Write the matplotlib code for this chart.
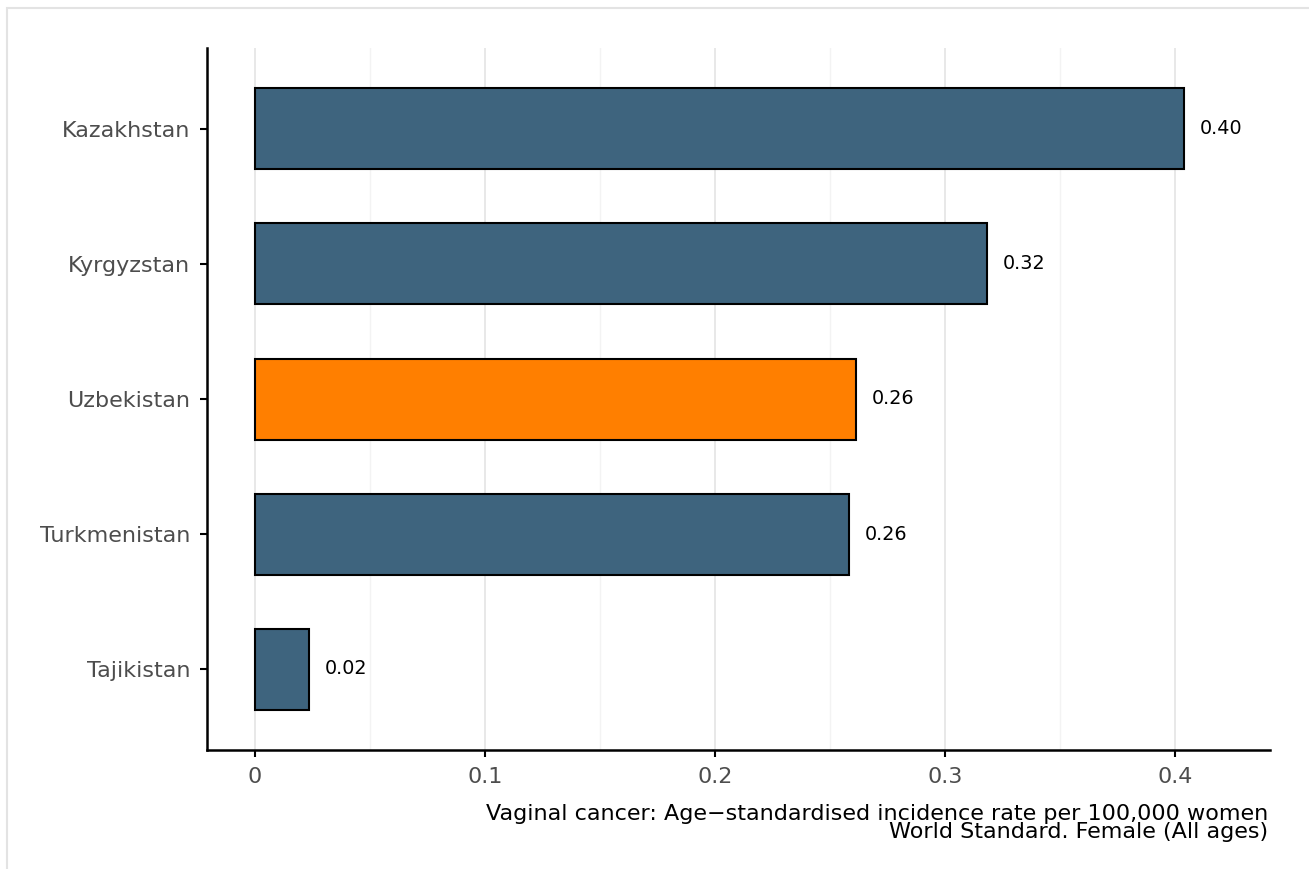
import matplotlib
matplotlib.use("Agg")
import matplotlib.pyplot as plt
from matplotlib.patches import Rectangle

# --- data ---
countries = ["Tajikistan", "Turkmenistan", "Uzbekistan", "Kyrgyzstan", "Kazakhstan"]
rates = [0.0235, 0.2583, 0.2613, 0.3183, 0.4039]
highlight = "Uzbekistan"
xticks = [0, 0.1, 0.2, 0.3, 0.4]
xtick_labels = ["0", "0.1", "0.2", "0.3", "0.4"]
caption = ("Vaginal cancer: Age\u2212standardised incidence rate per 100,000 women\n"
           "World Standard. Female (All ages)")

BLUE = "#3e647e"
ORANGE = "#ff7f00"

W, H = 1309, 869
fig = plt.figure(figsize=(W / 100, H / 100), dpi=100)
ax = fig.add_axes([207 / W, 1 - 750 / H, (1270 - 207) / W, (750 - 48) / H])

# faint page border
fig.patches.append(Rectangle((7 / W, -0.05), 1.1, 1 - 8 / H + 0.05,
                             transform=fig.transFigure, fill=False,
                             edgecolor="#e3e3e3", lw=1.5))

ypos = range(len(countries))
colors = [ORANGE if c == highlight else BLUE for c in countries]
ax.barh(ypos, rates, height=0.6, color=colors, edgecolor="black", lw=1.5, zorder=3)
for y, v in zip(ypos, rates):
    ax.text(v + 0.007, y, f"{v:.2f}", va="center", ha="left", fontsize=13.8, zorder=4)

ax.set_xlim(-0.0209, 0.4413)
ax.set_ylim(-0.6, 4.6)
ax.set_yticks(list(ypos))
ax.set_yticklabels(countries)
ax.set_xticks(xticks)
ax.set_xticklabels(xtick_labels)
ax.set_xticks([0.05, 0.15, 0.25, 0.35], minor=True)

ax.grid(axis="x", which="major", color="#e6e6e6", lw=1.3, zorder=0)
ax.grid(axis="x", which="minor", color="#f3f3f3", lw=1.0, zorder=0)
ax.tick_params(axis="both", which="major", labelsize=16, labelcolor="#4d4d4d",
               color="black", width=1.5, length=5)
ax.tick_params(axis="x", which="minor", length=0)
ax.tick_params(axis="x", pad=7)
ax.tick_params(axis="y", pad=7)
for s in ["top", "right"]:
    ax.spines[s].set_visible(False)
for s in ["left", "bottom"]:
    ax.spines[s].set_linewidth(1.8)

fig.text(1268 / W, 1 - 804 / H, caption, ha="right", va="top",
         fontsize=16, linespacing=0.9)

fig.savefig("out.png", dpi=100)
